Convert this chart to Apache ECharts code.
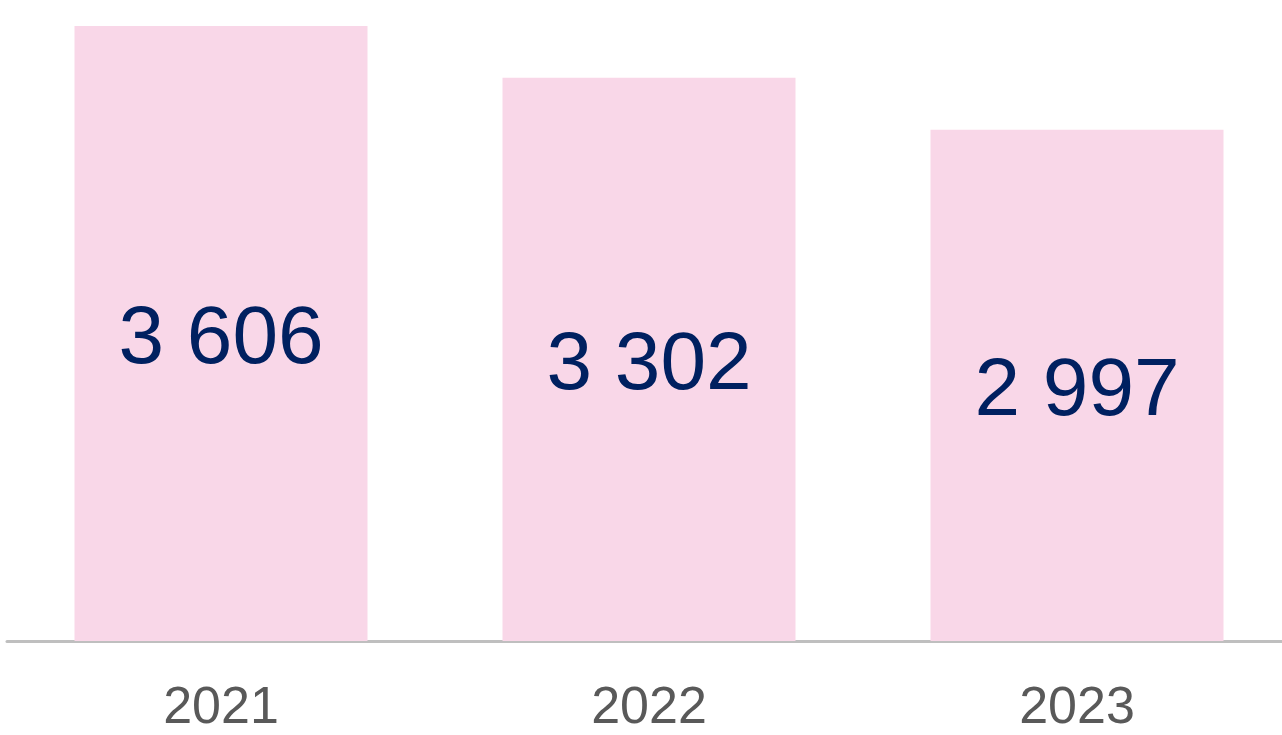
<!DOCTYPE html>
<html>
<head>
<meta charset="utf-8">
<script src="https://cdn.jsdelivr.net/npm/echarts@6/dist/echarts.min.js"></script>
<style>
html, body {margin: 0; padding: 0; background: #fff; overflow: hidden;}
/* a bit wider than the window: the last category runs past the right edge */
#chart {width: 1292px; height: 735px;}
</style>
</head>
<body>
<div id="chart"></div>
<script>
var years = ['2021', '2022', '2023'];
var values = [3606, 3302, 2997];

function fmt(v) {
    // thousands separated with a space
    return String(v).replace(/\B(?=(\d{3})+(?!\d))/g, ' ');
}

var myChart = echarts.init(document.getElementById('chart'));
var option = {
    backgroundColor: '#ffffff',
    animation: false,
    grid: {
        left: 7,
        right: 1,
        top: 26,
        bottom: 94,
        containLabel: false
    },
    xAxis: {
        type: 'category',
        data: years,
        axisLine: {show: true, lineStyle: {color: '#bfbfbf', width: 3}},
        axisTick: {show: false},
        axisLabel: {
            color: '#595959',
            fontFamily: 'Liberation Sans',
            fontSize: 52,
            margin: 42
        }
    },
    yAxis: {
        type: 'value',
        min: 0,
        max: 3606,
        show: false,
        splitLine: {show: false}
    },
    series: [
        {
            type: 'bar',
            data: values,
            barWidth: 293,
            itemStyle: {color: '#f9d7e8'},
            label: {
                show: true,
                position: 'inside',
                offset: [0, 7],
                color: '#002060',
                fontFamily: 'Liberation Sans',
                fontSize: 82,
                formatter: function (p) { return fmt(p.value); }
            }
        }
    ]
};
myChart.setOption(option);
</script>
</body>
</html>
